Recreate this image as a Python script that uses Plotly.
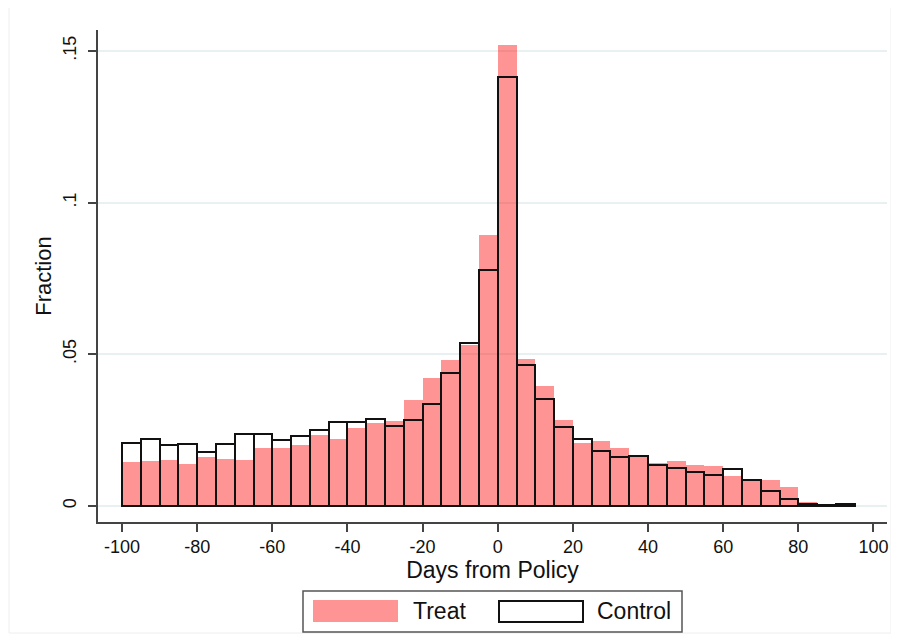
import plotly.graph_objects as go

# bin left edges (width 5 days)
bin_left = list(range(-100, 95, 5))
bin_width = 5

treat = [0.0144, 0.0148, 0.0153, 0.0137, 0.0160, 0.0155, 0.0152, 0.0191, 0.0191, 0.0200,
         0.0233, 0.0222, 0.0257, 0.0275, 0.0279, 0.0349, 0.0421, 0.0481, 0.0531, 0.0892,
         0.1518, 0.0485, 0.0397, 0.0283, 0.0207, 0.0215, 0.0192, 0.0163, 0.0140, 0.0149,
         0.0135, 0.0132, 0.0100, 0.0090, 0.0087, 0.0064, 0.0013, 0.0004, 0.0004]

control = [0.0207, 0.0221, 0.0202, 0.0205, 0.0178, 0.0204, 0.0238, 0.0238, 0.0217, 0.0230,
           0.0250, 0.0277, 0.0277, 0.0286, 0.0264, 0.0283, 0.0336, 0.0439, 0.0538, 0.0778,
           0.1414, 0.0463, 0.0354, 0.0260, 0.0222, 0.0180, 0.0160, 0.0165, 0.0135, 0.0124,
           0.0112, 0.0101, 0.0122, 0.0086, 0.0049, 0.0022, 0.0005, 0.0003, 0.0005]

x_ticks = list(range(-100, 101, 20))
x_ticktext = [str(v) for v in x_ticks]  # plain hyphen minus as in the original
y_ticks = [0, 0.05, 0.1, 0.15]
y_ticktext = ["0", ".05", ".1", ".15"]

centers = [b + bin_width / 2 for b in bin_left]

OFF = 8  # page body margin of the browser
W, H = 899 - OFF, 635 - OFF
L, R, T, B = 98 - OFF, 887 - OFF, 30 - OFF, 522 - OFF  # plot area pixel bounds

fig = go.Figure()
fig.add_trace(go.Bar(x=centers, y=treat, width=bin_width, name="Treat",
                     marker=dict(color="rgba(255,0,0,0.42)", line=dict(width=0))))
fig.add_trace(go.Bar(x=centers, y=control, width=bin_width, name="Control",
                     marker=dict(color="rgba(0,0,0,0)", line=dict(color="#111111", width=2))))

font = "Liberation Sans, Arial, sans-serif"

fig.update_layout(
    width=W, height=H,
    margin=dict(l=L, r=W - R, t=T, b=H - B),
    paper_bgcolor="white", plot_bgcolor="white",
    barmode="overlay", bargap=0, showlegend=False,
    font=dict(family=font, color="#111111", size=18),
    xaxis=dict(range=[-106.4, 103.6], tickvals=x_ticks, ticktext=x_ticktext,
               showgrid=False, zeroline=False,
               showline=True, linecolor="#444444", linewidth=1.5,
               ticks="outside", ticklen=8, tickwidth=1.5, tickcolor="#444444",
               tickfont=dict(size=18),
               title=dict(text="Days from Policy", font=dict(size=23), standoff=0)),
    yaxis=dict(range=[-0.0053, 0.1569], tickvals=y_ticks, ticktext=y_ticktext,
               tickangle=-90, showgrid=True, gridcolor="#e8f0f2", gridwidth=1.5,
               zeroline=False, showline=True, linecolor="#444444", linewidth=1.5,
               ticks="outside", ticklen=8, tickwidth=1.5, tickcolor="#444444",
               tickfont=dict(size=18), ticklabelstandoff=5,
               title=dict(text="Fraction", font=dict(size=22), standoff=2)),
)

def px(x):
    return (x - OFF - L) / (R - L)

def py(y):
    return (B - (y - OFF)) / (B - T)

shapes = []
# faint outer border
shapes.append(dict(type="rect", xref="paper", yref="paper",
                   x0=px(9), x1=px(891), y0=py(7), y1=py(633),
                   line=dict(color="#eeeeee", width=1), fillcolor="rgba(0,0,0,0)", layer="below"))
# legend box
shapes.append(dict(type="rect", xref="paper", yref="paper",
                   x0=px(303), x1=px(682), y0=py(591), y1=py(632),
                   line=dict(color="#555555", width=1.5), fillcolor="white"))
shapes.append(dict(type="rect", xref="paper", yref="paper",
                   x0=px(313), x1=px(398), y0=py(600), y1=py(622),
                   line=dict(width=0), fillcolor="rgba(255,0,0,0.42)"))
shapes.append(dict(type="rect", xref="paper", yref="paper",
                   x0=px(499), x1=px(583), y0=py(601), y1=py(622),
                   line=dict(color="#111111", width=2), fillcolor="white"))
fig.update_layout(shapes=shapes)

fig.add_annotation(text="Treat", xref="paper", yref="paper", x=px(411), y=py(611),
                   xanchor="left", yanchor="middle", showarrow=False, font=dict(size=23))
fig.add_annotation(text="Control", xref="paper", yref="paper", x=px(595), y=py(611),
                   xanchor="left", yanchor="middle", showarrow=False, font=dict(size=23))

fig.write_html("out.html")
